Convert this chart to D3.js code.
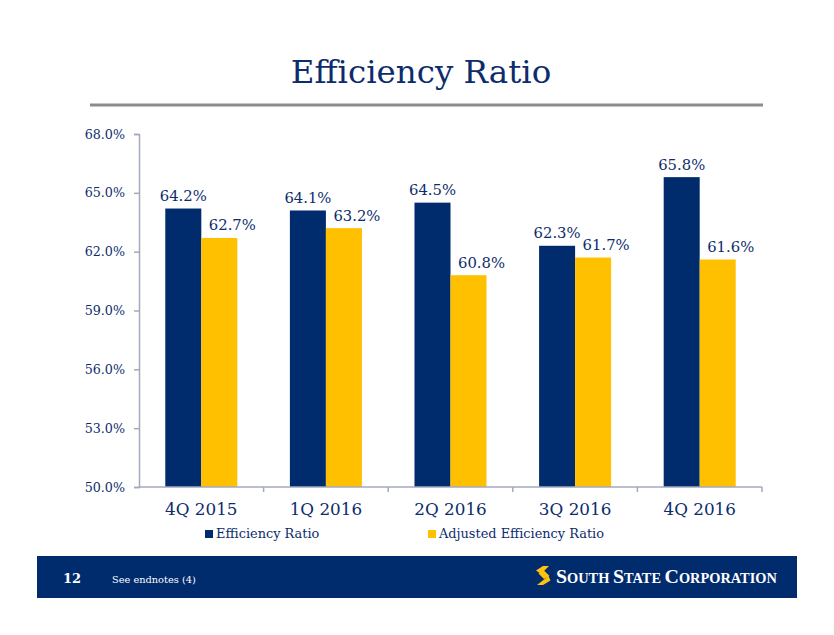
<!DOCTYPE html>
<html>
<head>
<meta charset="utf-8">
<script src="https://cdn.jsdelivr.net/npm/d3@7"></script>
<style>
  html, body { margin: 0; padding: 0; background: #fff; }
  svg { display: block; }
</style>
</head>
<body>
<div id="chart"></div>
<script>
const categories = ["4Q 2015", "1Q 2016", "2Q 2016", "3Q 2016", "4Q 2016"];
const seriesNames = ["Efficiency Ratio", "Adjusted Efficiency Ratio"];
const efficiency = [64.2, 64.1, 64.5, 62.3, 65.8];
const adjusted = [62.7, 63.2, 60.8, 61.7, 61.6];
const yTicks = [50, 53, 56, 59, 62, 65, 68];

(function () {
const W = 834, H = 635;
const navy = "#002b6c", gold = "#ffc000", textNavy = "#0d2c6c", axisCol = "#a3a9bf";
const serif = "Georgia, 'DejaVu Serif', 'Liberation Serif', serif";

const svg = d3.select("#chart").append("svg").attr("width", W).attr("height", H);

// Title
svg.append("text").attr("x", 421).attr("y", 83).attr("text-anchor", "middle")
  .attr("font-family", serif).attr("font-size", 32.5).attr("fill", textNavy)
  .text("Efficiency Ratio");
svg.append("rect").attr("x", 90).attr("y", 103.5).attr("width", 673).attr("height", 3).attr("fill", "#8c8c8c");

const pLeft = 139, pRight = 762, pTop = 134, pBottom = 487;
const y = d3.scaleLinear().domain([50, 68]).range([pBottom, pTop]);
const x = d3.scaleBand().domain(categories).range([pLeft, pRight]).padding(0);
const xs = d3.scaleBand().domain(seriesNames).range([0, x.bandwidth()]).paddingInner(0).paddingOuter(0.73);

const data = categories.map((c, i) => ({ cat: c, vals: [efficiency[i], adjusted[i]] }));

// Y axis
const yAxis = svg.append("g").attr("transform", `translate(${pLeft},0)`)
  .call(d3.axisLeft(y).tickValues(yTicks).tickSize(5).tickPadding(9).tickFormat(d => d.toFixed(1) + "%"));
yAxis.select(".domain").attr("stroke", axisCol).attr("stroke-width", 1.5);
yAxis.selectAll(".tick line").attr("stroke", axisCol).attr("stroke-width", 1.5);
yAxis.selectAll(".tick text").attr("font-family", serif).attr("font-size", 12.7).attr("fill", textNavy);

// Bars
const groups = svg.selectAll(".grp").data(data).join("g").attr("class", "grp")
  .attr("transform", d => `translate(${x(d.cat)},0)`);
const colors = [navy, gold];
groups.selectAll("rect").data(d => d.vals.map((v, j) => ({ v, s: seriesNames[j], j })))
  .join("rect")
  .attr("x", d => xs(d.s)).attr("width", xs.bandwidth())
  .attr("y", d => y(d.v)).attr("height", d => y(50) - y(d.v))
  .attr("fill", d => colors[d.j]);
groups.selectAll("text.lbl").data(d => d.vals.map((v, j) => ({ v, s: seriesNames[j], j })))
  .join("text").attr("class", "lbl")
  .attr("x", d => xs(d.s) + xs.bandwidth() / 2 + (d.j === 1 ? 13 : 0))
  .attr("y", d => y(d.v) - 7.5)
  .attr("text-anchor", "middle").attr("font-family", serif).attr("font-size", 14.8).attr("fill", textNavy)
  .text(d => d.v.toFixed(1) + "%");

// X axis
const xAxis = svg.append("g").attr("transform", `translate(0,${pBottom})`)
  .call(d3.axisBottom(x).tickSize(0).tickPadding(16));
xAxis.select(".domain").remove();
svg.append("line").attr("x1", pLeft).attr("x2", pRight).attr("y1", pBottom).attr("y2", pBottom)
  .attr("stroke", axisCol).attr("stroke-width", 1.5);
const bounds = categories.map(c => x(c)).slice(1).concat([pRight]);
svg.selectAll(".xtick").data(bounds).join("line").attr("class", "xtick")
  .attr("x1", d => d).attr("x2", d => d).attr("y1", pBottom).attr("y2", pBottom + 5)
  .attr("stroke", axisCol).attr("stroke-width", 1.5);
xAxis.selectAll(".tick text").attr("font-family", serif).attr("font-size", 16.8).attr("fill", textNavy)
  .attr("dy", "0.71em");

// Legend
const legendX = [205, 428];
seriesNames.forEach((s, i) => {
  svg.append("rect").attr("x", legendX[i]).attr("y", 530).attr("width", 8).attr("height", 8).attr("fill", colors[i]);
  svg.append("text").attr("x", legendX[i] + 11).attr("y", 538).attr("font-family", serif).attr("font-size", 12.9)
    .attr("fill", textNavy).text(s);
});

// Footer band
svg.append("rect").attr("x", 37).attr("y", 556).attr("width", 760).attr("height", 42).attr("fill", "#002b6d");
svg.append("text").attr("x", 63).attr("y", 583).attr("font-family", serif).attr("font-weight", "bold")
  .attr("font-size", 13).attr("fill", "#fff").text("12");
svg.append("text").attr("x", 112).attr("y", 583).attr("font-family", serif)
  .attr("font-size", 9.8).attr("fill", "#fff").text("See endnotes (4)");

// Logo icon
const logo = svg.append("g").attr("transform", "translate(536,566)").attr("fill", "#ffc20e");
logo.append("path").attr("d", "M7,0 L13,0 L5,8 L0,4.5 Z");
logo.append("path").attr("d", "M2.5,7.5 L8,4.5 L13.5,10 L8,13 Z");
logo.append("path").attr("d", "M12.5,10 L14.5,14.5 L7,19 L1,19 Z");
// Logo text in small caps
const lt = svg.append("text").attr("x", 556).attr("y", 583).attr("font-family", "'Liberation Serif', 'DejaVu Serif', serif")
  .attr("font-weight", "bold").attr("fill", "#fff");
const parts = [["S", 1], ["OUTH ", 0], ["S", 1], ["TATE ", 0], ["C", 1], ["ORPORATION", 0]];
const spans = parts.map(([t, big]) => lt.append("tspan").attr("font-size", big ? 18 : 13).text(t));
const wNow = lt.node().getComputedTextLength();
const k = 221 / wNow;
spans.forEach((sp, i) => sp.attr("font-size", (parts[i][1] ? 18 : 13) * k));
})();
</script>
</body>
</html>
